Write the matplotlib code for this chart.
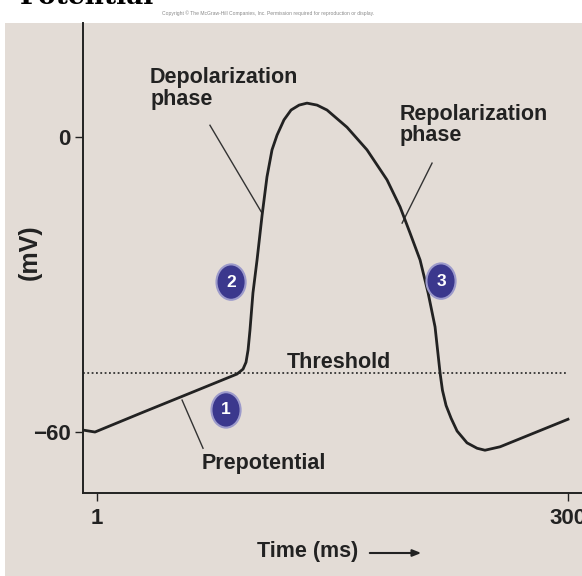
import matplotlib
matplotlib.use("Agg")
import matplotlib.pyplot as plt
from matplotlib.patches import Ellipse, Rectangle

# pacemaker action potential
time_ms = [-7.9, -0.3, 30, 60, 89.9, 93.7, 95.6, 96.9, 98.1, 100.0, 102.6, 105.8,
           108.9, 112.1, 115.3, 119.7, 124.2, 129.3, 134.3, 140.7, 147.0, 159.7,
           172.4, 185.1, 193.4, 199.7, 206.1, 211.2, 215.6, 218.8, 220.3, 222.6,
           225.8, 229.6, 235.9, 242.3, 247.3, 256.9, 300.0]
voltage_mV = [-59.6, -60.0, -56.0, -52.1, -48.2, -47.2, -45.8, -43.3, -39.3, -31.7,
              -25.0, -15.9, -8.1, -2.6, 0.4, 3.5, 5.5, 6.5, 6.9, 6.5, 5.5, 2.0,
              -2.6, -8.7, -14.2, -19.5, -25.0, -31.7, -38.6, -48.0, -51.5, -54.6,
              -57.2, -59.8, -62.2, -63.3, -63.7, -63.0, -57.4]
threshold_mV = -48
xticks = [1, 300]
yticks = [-60, 0]
yticklabels = ["\u221260", "0"]

bg = "#e3dcd6"
ink = "#222222"
font = ["Liberation Sans", "DejaVu Sans"]

W, H = 582, 576
fig = plt.figure(figsize=(W / 100, H / 100), dpi=100)
fig.patch.set_facecolor("white")
# beige panel behind the figure
fig.patches.append(Rectangle((5 / W, 0), 1 - 5 / W, 1 - 23 / H, transform=fig.transFigure,
                             facecolor=bg, edgecolor="none", zorder=-5))

ax = fig.add_axes([83 / W, (H - 493) / H, (W - 83) / W, (493 - 23) / H])
ax.set_zorder(2)
ax.set_facecolor(bg)
ax.set_xlim(-7.9, 308.9)
ax.set_ylim(-72.4, 23.2)
for s in ["top", "right"]:
    ax.spines[s].set_visible(False)
for s in ["left", "bottom"]:
    ax.spines[s].set_linewidth(1.4)
    ax.spines[s].set_color(ink)

ax.set_xticks(xticks)
ax.set_xticklabels([str(t) for t in xticks])
ax.set_yticks(yticks)
ax.set_yticklabels(yticklabels)
ax.tick_params(direction="out", length=6, width=1, color=ink, labelcolor=ink)
ax.tick_params(axis="x", pad=5)
ax.tick_params(axis="y", pad=3)
for lab in ax.get_xticklabels() + ax.get_yticklabels():
    lab.set_family(font)
    lab.set_fontweight("bold")
    lab.set_fontsize(16)

# curve + threshold
ax.plot(time_ms, voltage_mV, color=ink, lw=2.0, solid_joinstyle="round", zorder=3)
ax.axhline(threshold_mV, xmin=0, xmax=0.97, color="#333333", lw=1.3, linestyle=(0, (1, 1.4)))

tkw = dict(family=font, fontweight="bold", fontsize=15.5, color=ink)
ax.text(34.7, 14.3, "Depolarization\nphase", ha="left", va="top", linespacing=1.05, **tkw)
ax.plot([72.7, 105.8], [2.4, -15.5], color="#333333", lw=1.0)
ax.text(193.4, 6.8, "Repolarization\nphase", ha="left", va="top", linespacing=1.05, **tkw)
ax.plot([213.7, 194.7], [-5.3, -17.5], color="#333333", lw=1.0)
ax.text(121.6, -47.0, "Threshold", ha="left", va="baseline", **tkw)
ax.text(67.7, -64.3, "Prepotential", ha="left", va="top", **tkw)
ax.plot([68.3, 55.0], [-63.3, -53.5], color="#333333", lw=1.0)

# numbered badges
for n, (bx, by) in enumerate([(82.9, -55.5), (86.1, -29.5), (219.4, -29.3)], start=1):
    ax.add_patch(Ellipse((bx, by), 18.5, 7.2, facecolor="#3b388d", edgecolor="#9c9acb",
                         lw=1.5, zorder=4))
    ax.text(bx, by, str(n), ha="center", va="center", color="white", fontsize=12.5,
            family=font, fontweight="bold", zorder=5)

# axis labels
fig.text(30 / W, 1 - 252 / H, "(mV)", rotation=90, ha="center", va="center",
         family=font, fontweight="bold", fontsize=18, color=ink)
fig.text(257 / W, 1 - 551 / H, "Time (ms)", ha="left", va="center", **tkw)
ax.annotate("", xy=(424 / W, 1 - 553 / H), xytext=(367 / W, 1 - 553 / H),
            xycoords="figure fraction", textcoords="figure fraction",
            arrowprops=dict(arrowstyle="-|>,head_length=0.5,head_width=0.2", color=ink, lw=1.5))

# header bits
fig.text(268 / W, 1 - 13 / H,
         "Copyright \u00a9 The McGraw-Hill Companies, Inc. Permission required for reproduction or display.",
         ha="center", va="center", fontsize=3.6, color="#8a8a8a", family=font)
fig.text(20 / W, 1 - 4 / H, "Potential", ha="left", va="baseline", fontsize=19,
         fontweight="bold", family=["DejaVu Serif"], color="black")

fig.savefig("out.png", dpi=100, facecolor="white")
